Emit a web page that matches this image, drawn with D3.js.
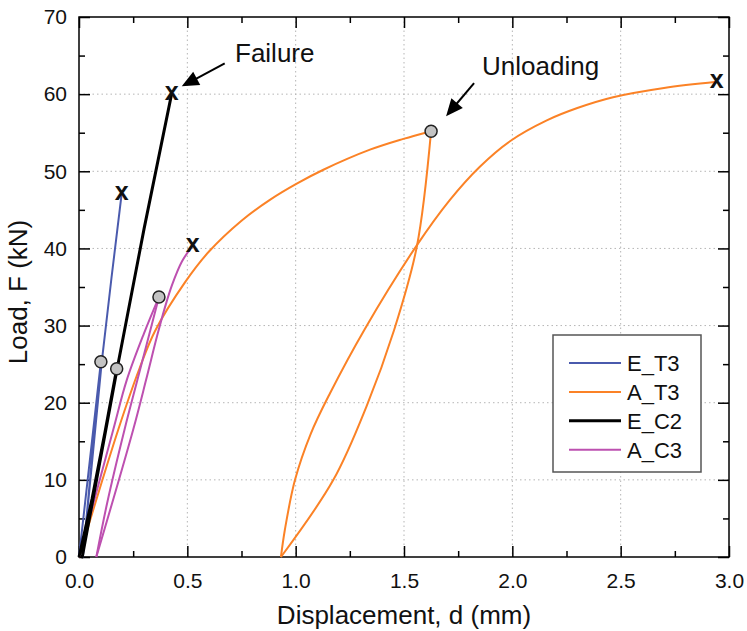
<!DOCTYPE html>
<html>
<head>
<meta charset="utf-8">
<script src="https://cdn.jsdelivr.net/npm/d3@7"></script>
<style>
  body { margin: 0; background: #fff; }
  text { font-family: "Liberation Sans", Arial, sans-serif; fill: #111; }
</style>
</head>
<body>
<div id="chart"></div>
<script>
// Load-displacement curves, values: [d (mm), F (kN)]

const seriesNames = ["E_T3", "A_T3", "E_C2", "A_C3"];
const seriesColors = ["#4a5aad", "#fb8226", "#000000", "#bd50b0"];

// E_T3 : load, unload, reload up to failure
const eT3Curve = [[0, 0], [0.101, 25.3], [0.018, 0], [0.105, 25.3], [0.15, 36.2], [0.197, 47.1]];

// A_T3 : three branches
const aT3Loading = [[0, 0], [0.181, 16.5], [0.28, 24.5], [0.351, 29.3], [0.489, 35.6], [0.6, 39.6],
  [0.75, 43.6], [0.881, 46.3], [1.005, 48.4], [1.128, 50.2], [1.343, 52.8], [1.497, 54.2], [1.625, 55.2]];
const aT3Unloading = [[1.625, 55.2], [1.559, 40.2], [1.454, 29.4], [1.328, 19.6], [1.174, 10.0], [0.932, 0]];
const aT3Reloading = [[0.932, 0], [0.95, 3.5], [0.997, 10.0], [1.07, 16.0], [1.158, 21.2], [1.32, 29.6],
  [1.559, 40.4], [1.712, 46.3], [1.85, 50.6], [1.989, 53.9], [2.159, 56.6], [2.3, 58.2], [2.465, 59.6],
  [2.7, 60.8], [2.943, 61.6]];

// E_C2
const eC2Curve = [[0, 0], [0.06, 7.5], [0.12, 16.2], [0.174, 24.4], [0.015, 0], [0.176, 24.4], [0.30, 42.5], [0.428, 60.1]];

// A_C3 : three branches
const aC3Loading = [[0, 0], [0.158, 16.5], [0.22, 22.9], [0.30, 29], [0.369, 33.7]];
const aC3Unloading = [[0.369, 33.7], [0.27, 23], [0.21, 16.5], [0.13, 7], [0.08, 0]];
const aC3Reloading = [[0.08, 0], [0.25, 16.5], [0.31, 23], [0.36, 28.6], [0.395, 32.2], [0.43, 35.3],
  [0.475, 38.3], [0.525, 40.4]];

// Markers
const unloadPoints = [[0.101, 25.3], [0.174, 24.4], [0.369, 33.7], [1.625, 55.2]];
const failurePoints = [[0.197, 47.1], [0.428, 60.1], [0.525, 40.4], [2.943, 61.6]];

// Axis ticks
const xTicks = [0, 0.5, 1.0, 1.5, 2.0, 2.5, 3.0];
const xMinorTicks = [0.25, 0.75, 1.25, 1.75, 2.25, 2.75];
const yTicks = [0, 10, 20, 30, 40, 50, 60, 70];
const yMinorTicks = [5, 15, 25, 35, 45, 55, 65];

const width = 747;
const height = 631;
const margin = { top: 17, right: 18, bottom: 74, left: 79 };

const svg = d3.select("#chart")
  .append("svg")
  .attr("width", width)
  .attr("height", height);

const x = d3.scaleLinear().domain([0, 3]).range([margin.left, width - margin.right]);
const y = d3.scaleLinear().domain([0, 70]).range([height - margin.bottom, margin.top]);

// dotted grid
const grid = svg.append("g").attr("stroke", "#b5b5b5").attr("stroke-width", 1).attr("stroke-dasharray", "1.5,3");
grid.selectAll(".vgrid")
  .data(xTicks.slice(1, -1))
  .enter().append("line")
  .attr("x1", d => x(d)).attr("x2", d => x(d))
  .attr("y1", y(70)).attr("y2", y(0));
grid.selectAll(".hgrid")
  .data(yTicks.slice(1, -1))
  .enter().append("line")
  .attr("x1", x(0)).attr("x2", x(3))
  .attr("y1", d => y(d)).attr("y2", d => y(d));

// axes with ticks pointing inwards
function styleAxis(g) {
  g.select(".domain").remove();
  g.selectAll(".tick line").attr("stroke", "#000").attr("stroke-width", 1.5);
  g.selectAll(".tick text").style("font-size", "21px").attr("fill", "#111");
}

svg.append("g")
  .attr("transform", `translate(0,${y(0)})`)
  .call(d3.axisBottom(x).tickValues(xTicks).tickFormat(d3.format(".1f")).tickSize(-11).tickPadding(16))
  .call(styleAxis);
svg.append("g")
  .attr("transform", `translate(0,${y(0)})`)
  .call(d3.axisBottom(x).tickValues(xMinorTicks).tickFormat("").tickSize(-6))
  .call(styleAxis);
svg.append("g")
  .attr("transform", `translate(0,${y(70)})`)
  .call(d3.axisTop(x).tickValues(xTicks).tickFormat("").tickSize(-11))
  .call(styleAxis);
svg.append("g")
  .attr("transform", `translate(0,${y(70)})`)
  .call(d3.axisTop(x).tickValues(xMinorTicks).tickFormat("").tickSize(-6))
  .call(styleAxis);

svg.append("g")
  .attr("transform", `translate(${x(0)},0)`)
  .call(d3.axisLeft(y).tickValues(yTicks).tickSize(-11).tickPadding(12))
  .call(styleAxis);
svg.append("g")
  .attr("transform", `translate(${x(0)},0)`)
  .call(d3.axisLeft(y).tickValues(yMinorTicks).tickFormat("").tickSize(-6))
  .call(styleAxis);
svg.append("g")
  .attr("transform", `translate(${x(3)},0)`)
  .call(d3.axisRight(y).tickValues(yTicks).tickFormat("").tickSize(-11))
  .call(styleAxis);
svg.append("g")
  .attr("transform", `translate(${x(3)},0)`)
  .call(d3.axisRight(y).tickValues(yMinorTicks).tickFormat("").tickSize(-6))
  .call(styleAxis);

// plot frame
svg.append("rect")
  .attr("x", x(0)).attr("y", y(70))
  .attr("width", x(3) - x(0)).attr("height", y(0) - y(70))
  .attr("fill", "none").attr("stroke", "#000").attr("stroke-width", 1.5);

// axis titles
svg.append("text")
  .attr("x", (x(0) + x(3)) / 2)
  .attr("y", 624)
  .attr("text-anchor", "middle")
  .style("font-size", "26px")
  .text("Displacement, d (mm)");

svg.append("text")
  .attr("transform", `translate(27,292) rotate(-90)`)
  .attr("text-anchor", "middle")
  .style("font-size", "26px")
  .text("Load, F (kN)");

// curves
const smooth = d3.line()
  .x(d => x(d[0]))
  .y(d => y(d[1]))
  .curve(d3.curveCatmullRom.alpha(0.5));
const straight = d3.line()
  .x(d => x(d[0]))
  .y(d => y(d[1]));

const curves = [
  { pts: aT3Loading, s: 1, w: 2, smooth: true },
  { pts: aT3Unloading, s: 1, w: 2, smooth: true },
  { pts: aT3Reloading, s: 1, w: 2, smooth: true },
  { pts: aC3Loading, s: 3, w: 2, smooth: true },
  { pts: aC3Unloading, s: 3, w: 2, smooth: true },
  { pts: aC3Reloading, s: 3, w: 2, smooth: true },
  { pts: eT3Curve, s: 0, w: 2, smooth: false },
  { pts: eC2Curve, s: 2, w: 3, smooth: false }
];

svg.append("g")
  .selectAll("path")
  .data(curves)
  .enter().append("path")
  .attr("d", d => d.smooth ? smooth(d.pts) : straight(d.pts))
  .attr("fill", "none")
  .attr("stroke", d => seriesColors[d.s])
  .attr("stroke-width", d => d.w)
  .attr("stroke-linejoin", "round");

// unloading markers
svg.append("g")
  .selectAll("circle")
  .data(unloadPoints)
  .enter().append("circle")
  .attr("cx", d => x(d[0]))
  .attr("cy", d => y(d[1]))
  .attr("r", 6)
  .attr("fill", "#c3c3c3")
  .attr("stroke", "#222")
  .attr("stroke-width", 1.5);

// failure markers
svg.append("g")
  .selectAll("text")
  .data(failurePoints)
  .enter().append("text")
  .attr("x", d => x(d[0]))
  .attr("y", d => y(d[1]) + 6.5)
  .attr("text-anchor", "middle")
  .style("font-size", "25px")
  .style("font-weight", "bold")
  .text("x");

// annotations with arrows
function drawArrow(x1, y1, x2, y2) {
  const dx = x2 - x1, dy = y2 - y1;
  const len = Math.sqrt(dx * dx + dy * dy);
  const ux = dx / len, uy = dy / len;
  const head = 17, half = 7.5;
  const bx = x2 - ux * head, by = y2 - uy * head;
  svg.append("line")
    .attr("x1", x1).attr("y1", y1)
    .attr("x2", bx + ux * 2).attr("y2", by + uy * 2)
    .attr("stroke", "#000").attr("stroke-width", 2);
  svg.append("polygon")
    .attr("points", [[x2, y2], [bx - uy * half, by + ux * half], [bx + uy * half, by - ux * half]].join(" "))
    .attr("fill", "#000");
}

const failTip = [x(failurePoints[1][0]) + 10, y(failurePoints[1][1]) - 7];
drawArrow(failTip[0] + 43, failTip[1] - 23, failTip[0], failTip[1]);
svg.append("text").attr("x", 235).attr("y", 61.5).style("font-size", "26px").text("Failure");

const unloadTip = [x(unloadPoints[3][0]) + 15, y(unloadPoints[3][1]) - 15];
drawArrow(unloadTip[0] + 28, unloadTip[1] - 33, unloadTip[0], unloadTip[1]);
svg.append("text").attr("x", 482).attr("y", 75).style("font-size", "26px").text("Unloading");

// legend
const legend = svg.append("g");
legend.append("rect")
  .attr("x", 553).attr("y", 335)
  .attr("width", 148).attr("height", 137)
  .attr("fill", "#fff").attr("stroke", "#555").attr("stroke-width", 1.5);

const legendItems = legend.selectAll(".item")
  .data(seriesNames)
  .enter().append("g")
  .attr("transform", (d, i) => `translate(0,${363 + i * 28.9})`);
legendItems.append("line")
  .attr("x1", 569).attr("x2", 621)
  .attr("stroke", (d, i) => seriesColors[i])
  .attr("stroke-width", (d, i) => i === 2 ? 3 : 2);
legendItems.append("text")
  .attr("x", 627)
  .attr("dy", "0.36em")
  .style("font-size", "22px")
  .text(d => d);
</script>
</body>
</html>
